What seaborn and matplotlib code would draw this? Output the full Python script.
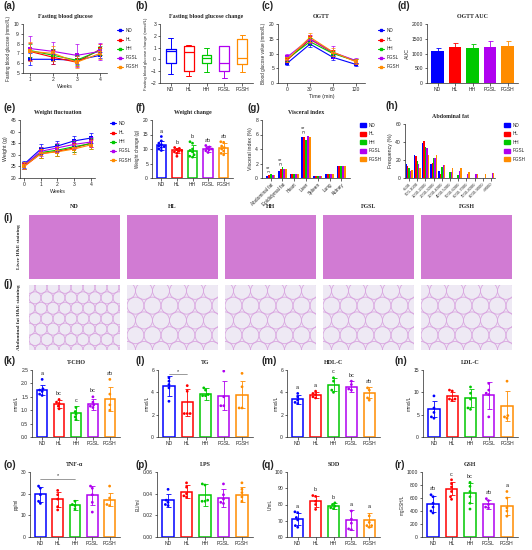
import numpy as np
import pandas as pd
import matplotlib
matplotlib.use("Agg")
import matplotlib.pyplot as plt
import seaborn as sns
from matplotlib.lines import Line2D
from matplotlib.patches import Patch, Circle

# ---------------- data ----------------
groups = ["ND", "HL", "HH", "FGSL", "FGSH"]
colors = ["#0000FF", "#FF0000", "#00C800", "#B000F0", "#FF8C00"]

# (a) fasting blood glucose
fbg_weeks = [1, 2, 3, 4]
fbg_mean = {"ND": [6.4, 6.4, 6.3, 6.8], "HL": [7.2, 6.6, 6.1, 7.4], "HH": [7.3, 6.8, 6.3, 7.3],
            "FGSL": [7.5, 7.2, 6.8, 7.2], "FGSH": [7.2, 7.0, 6.1, 7.0]}
fbg_sd = {"ND": [0.6, 0.5, 0.4, 0.3], "HL": [0.9, 0.7, 0.4, 0.6], "HH": [0.7, 0.6, 0.5, 0.5],
          "FGSL": [1.3, 1.0, 1.2, 0.9], "FGSH": [1.0, 0.8, 0.6, 0.6]}

# (b) fasting blood glucose change box stats: whislo, q1, med, q3, whishi
fbgc_box = {"ND": [-1.2, -0.3, 0.7, 0.9, 1.8], "HL": [-1.4, -1.0, 0.6, 1.1, 1.2],
            "HH": [-1.1, -0.3, 0.1, 0.4, 1.0], "FGSL": [-1.6, -1.0, -0.3, 1.1, 1.1],
            "FGSH": [-1.1, -0.4, 0.1, 1.7, 2.1]}

# (c) OGTT
ogtt_time = ["0", "30", "60", "120"]
ogtt_mean = {"ND": [6.7, 13.2, 8.7, 6.3], "HL": [7.8, 14.8, 10.3, 7.4], "HH": [8.2, 14.0, 10.0, 7.5],
             "FGSL": [8.8, 15.0, 10.4, 7.6], "FGSH": [8.0, 15.5, 10.5, 7.2]}
ogtt_sd = {"ND": [0.6, 1.0, 0.8, 0.6], "HL": [0.8, 1.2, 1.0, 0.9], "HH": [0.7, 1.1, 1.0, 0.8],
           "FGSL": [1.0, 1.3, 2.0, 0.9], "FGSH": [0.8, 1.5, 1.2, 0.9]}

# (d) OGTT AUC
auc_mean = [1080, 1230, 1200, 1230, 1240]
auc_sd = [100, 120, 130, 190, 190]

# (e) weight fluctuation
wt_weeks = [0, 1, 2, 3, 4]
wt_mean = {"ND": [26.0, 32.5, 33.8, 36.0, 37.2], "HL": [25.0, 30.5, 31.5, 33.0, 35.0],
           "HH": [25.5, 31.0, 32.0, 33.5, 34.8], "FGSL": [25.5, 31.5, 33.0, 34.5, 35.5],
           "FGSH": [25.2, 30.5, 31.3, 32.5, 34.3]}
wt_sd = {"ND": [1.5, 2.3, 2.0, 2.0, 2.3], "HL": [1.3, 2.0, 2.0, 2.0, 1.8], "HH": [1.5, 2.5, 2.5, 2.5, 2.5],
         "FGSL": [1.5, 2.0, 2.0, 2.0, 2.0], "FGSH": [1.5, 2.0, 2.0, 2.0, 2.0]}

# (f) weight change
wc_mean = [11.3, 9.5, 9.3, 10.0, 10.3]
wc_sd = [1.5, 1.0, 2.2, 1.0, 1.8]
wc_pts = {"ND": [14.3, 12.8, 12.0, 11.5, 11.0, 10.8, 10.5, 10.0, 9.5],
          "HL": [10.5, 10.2, 9.8, 9.5, 9.2, 9.0, 8.5, 7.5],
          "HH": [12.5, 12.0, 10.0, 9.5, 9.0, 8.0, 7.5, 7.2],
          "FGSL": [11.2, 10.7, 10.3, 10.0, 9.7, 9.4, 8.8],
          "FGSH": [12.5, 12.3, 11.0, 10.5, 10.0, 9.3, 8.5, 8.0]}
wc_letters = ["a", "b", "b", "ab", "ab"]

# (g) visceral index
organs = ["Abdominal fat", "Epididymal fat", "Heart", "Liver", "Spleen", "Lung", "Kidney"]
vis_vals = {"ND": [0.3, 0.9, 0.5, 5.7, 0.3, 0.6, 1.7], "HL": [0.4, 1.3, 0.5, 5.7, 0.3, 0.6, 1.7],
            "HH": [0.5, 1.5, 0.5, 5.3, 0.3, 0.6, 1.6], "FGSL": [0.35, 1.3, 0.5, 5.8, 0.3, 0.6, 1.7],
            "FGSH": [0.35, 1.3, 0.5, 5.7, 0.3, 0.6, 1.6]}

# (h) abdominal fat cell size distribution
fat_bins = ["<500", "500-1000", "1000-2000", "2000-3000", "3000-4000", "4000-5000",
            "5000-6000", "6000-7000", "7000-8000", "8000-9000", ">9000"]
fat_vals = {"ND": [16, 26, 39, 16, 8, 0, 0, 0, 0, 0, 0],
            "HL": [13, 24, 41, 17, 5, 0, 0, 0, 0, 0, 0],
            "HH": [11, 19, 35, 22, 12, 7, 3, 0, 0, 0, 0],
            "FGSL": [8, 16, 33, 22, 15, 7, 8, 5, 5, 0, 6],
            "FGSH": [9, 11, 26, 26, 15, 11, 11, 7, 5, 5, 6]}

# (k)-(r) serum indices
tcho_mean = [1.75, 1.22, 0.90, 1.22, 1.42]; tcho_sd = [0.20, 0.15, 0.25, 0.20, 0.45]
tcho_pts = {"ND": [2.15, 1.8, 1.75, 1.7, 1.6, 1.55], "HL": [1.4, 1.3, 1.25, 1.15, 1.05],
            "HH": [1.1, 0.95, 0.85, 0.75, 0.65], "FGSL": [1.5, 1.3, 1.2, 1.15, 1.1],
            "FGSH": [2.15, 1.6, 1.2, 1.0]}
tcho_letters = ["a", "bc", "c", "bc", "ab"]

tg_mean = [4.6, 3.1, 3.85, 3.7, 3.8]; tg_sd = [0.9, 1.2, 0.5, 1.3, 1.2]
tg_pts = {"ND": [5.3, 5.0, 4.7, 4.4, 3.2], "HL": [4.6, 4.1, 2.1, 2.1, 2.1],
          "HH": [4.4, 4.2, 3.8, 3.7, 3.7], "FGSL": [5.9, 3.6, 2.8, 2.8], "FGSH": [5.7, 4.5, 2.6, 2.6]}

hdl_mean = [3.4, 3.75, 4.7, 4.5, 3.95]; hdl_sd = [0.4, 0.3, 0.6, 0.5, 0.5]
hdl_pts = {"ND": [3.9, 3.6, 3.3, 3.1, 3.0], "HL": [4.1, 3.9, 3.8, 3.6, 3.5],
           "HH": [5.3, 5.0, 4.2, 4.0], "FGSL": [5.0, 4.7, 4.3, 4.2], "FGSH": [4.4, 4.2, 3.5, 3.3]}
hdl_letters = ["a", "a", "c", "bc", "ab"]

ldl_mean = [6.3, 9.1, 8.7, 9.3, 6.9]; ldl_sd = [1.8, 1.0, 2.0, 3.0, 3.3]
ldl_pts = {"ND": [9.2, 6.5, 5.5, 4.5, 4.2], "HL": [10.5, 10.3, 8.5, 8.5, 8.3],
           "HH": [11.2, 9.8, 8.5, 6.5, 6.2], "FGSL": [12.0, 10.5, 9.8, 9.5, 4.5],
           "FGSH": [12.5, 4.8, 4.5, 4.2]}

tnf_mean = [19.8, 17.5, 14.8, 19.2, 17.3]; tnf_sd = [3.5, 3.5, 2.2, 4.5, 3.2]
tnf_pts = {"ND": [23.5, 22.5, 19.5, 16.5, 15.5], "HL": [21.5, 19.5, 17.5, 14.0, 12.5],
           "HH": [16.5, 15.0, 14.5, 13.0], "FGSL": [23.5, 22.5, 19.5, 16.0, 11.5],
           "FGSH": [23.5, 18.0, 15.0, 14.5]}

lps_mean = [0.034, 0.042, 0.039, 0.036, 0.039]; lps_sd = [0.006, 0.006, 0.010, 0.008, 0.007]
lps_pts = {"ND": [0.044, 0.034, 0.032, 0.030, 0.029], "HL": [0.050, 0.046, 0.040, 0.038, 0.037],
           "HH": [0.049, 0.048, 0.034, 0.033, 0.033], "FGSL": [0.049, 0.039, 0.035, 0.032, 0.031],
           "FGSH": [0.050, 0.044, 0.041, 0.037, 0.033]}

sod_mean = [71, 82, 79, 70.5, 70.5]; sod_sd = [3.5, 3.5, 2.0, 6.0, 4.5]
sod_pts = {"ND": [75.5, 75, 72, 70.5, 67, 66], "HL": [85.5, 85, 82, 80, 77],
           "HH": [81, 80, 79, 78, 77.5], "FGSL": [76, 71, 68.5, 65, 64.5], "FGSH": [73, 69, 67, 67, 66]}
sod_letters = ["a", "b", "b", "a", "a"]

gsh_mean = [510, 740, 675, 505, 475]; gsh_sd = [120, 100, 150, 70, 140]
gsh_pts = {"ND": [650, 620, 520, 460, 400, 370], "HL": [880, 820, 770, 700, 620, 580],
           "HH": [840, 780, 700, 620, 520, 430], "FGSL": [590, 560, 500, 460, 450],
           "FGSH": [700, 600, 450, 400, 320]}
gsh_letters = ["ab", "c", "bc", "ab", "a"]

# ---------------- style ----------------
sns.set_style("ticks")
plt.rcParams.update({
    "font.family": ["Liberation Sans", "DejaVu Sans"],
    "font.size": 4,
    "axes.linewidth": 0.5,
    "xtick.major.width": 0.5, "ytick.major.width": 0.5,
    "xtick.major.size": 1.8, "ytick.major.size": 1.8,
    "xtick.major.pad": 1.2, "ytick.major.pad": 1.0,
    "xtick.labelsize": 3.6, "ytick.labelsize": 3.6,
    "axes.labelsize": 3.8, "axes.labelpad": 1.5,
})
pal = dict(zip(groups, colors))
W, H = 532, 550
fig = plt.figure(figsize=(W / 100, H / 100), dpi=100)
SERIF = ["Liberation Serif", "DejaVu Serif"]


def add(x0, y0, x1, y1):
    ax = fig.add_axes([x0 / W, 1 - y1 / H, (x1 - x0) / W, (y1 - y0) / H])
    sns.despine(ax=ax)
    return ax


def title(ax, t):
    ax.set_title(t, fontsize=4.3, fontweight="bold", family=SERIF, pad=4)


def plabel(x, y, t):
    fig.text(x / W, 1 - y / H, "(" + t + ")", fontsize=7, fontweight="bold",
             family=["Liberation Sans"], va="center", ha="left")


def line_legend(x, y):
    handles = [Line2D([0], [0], color=c, marker="s", ms=2, lw=0.8) for c in colors]
    fig.legend(handles, groups, loc="upper left", bbox_to_anchor=(x / W, 1 - y / H),
               frameon=False, fontsize=3.3, handlelength=1.3, handletextpad=0.5,
               labelspacing=0.9, borderpad=0, borderaxespad=0)


def patch_legend(x, y):
    handles = [Patch(color=c) for c in colors]
    fig.legend(handles, groups, loc="upper left", bbox_to_anchor=(x / W, 1 - y / H),
               frameon=False, fontsize=3.3, handlelength=1.4, handleheight=1.0,
               handletextpad=0.5, labelspacing=0.75, borderpad=0, borderaxespad=0)


def line_panel(ax, xs, mean, sd, xticklabels=None):
    rows = []
    for g in groups:
        for i, v in enumerate(mean[g]):
            rows.append((g, xs[i], v))
    df = pd.DataFrame(rows, columns=["g", "x", "v"])
    sns.lineplot(data=df, x="x", y="v", hue="g", palette=pal, hue_order=groups, marker="s",
                 markersize=2.5, markeredgewidth=0, linewidth=0.8, ax=ax, legend=False)
    for g in groups:
        ax.errorbar(xs, mean[g], yerr=sd[g], fmt="none", ecolor=pal[g], elinewidth=0.5,
                    capsize=1.2, capthick=0.5)
    ax.set_xticks(xs)
    if xticklabels is not None:
        ax.set_xticklabels(xticklabels)


def bar_dots(ax, means, sds, pts, ylim, yticks, ylabel, letters=None, fmt=None):
    sns.barplot(x=groups, y=means, hue=groups, palette=pal, fill=False, linewidth=1.1,
                width=0.62, errorbar=None, ax=ax, legend=False)
    for i, g in enumerate(groups):
        ax.errorbar(i, means[i], yerr=sds[i], fmt="none", ecolor=pal[g], elinewidth=0.6,
                    capsize=1.8, capthick=0.6)
    rows = [(g, v) for g in groups for v in pts[g]]
    df = pd.DataFrame(rows, columns=["g", "v"])
    sns.swarmplot(data=df, x="g", y="v", hue="g", palette=pal, order=groups, size=2.0,
                  ax=ax, legend=False)
    ax.set_ylim(*ylim)
    ax.set_yticks(yticks)
    if fmt:
        ax.set_yticklabels([fmt.format(t) for t in yticks])
    ax.set_xlabel("")
    ax.set_ylabel(ylabel, fontsize=3.3)
    ax.set_xlim(-0.6, 4.6)
    if letters:
        span = ylim[1] - ylim[0]
        for i in range(5):
            top = max(means[i] + sds[i], max(pts[groups[i]]))
            ax.text(i, top + 0.05 * span, letters[i], ha="center", va="bottom", fontsize=4)


def bracket(ax, x0, x1, y, h, txt):
    ax.plot([x0, x0, x1, x1], [y - h, y, y, y - h], color="0.3", lw=0.4)
    ax.text((x0 + x1) / 2, y, txt, ha="center", va="bottom", fontsize=4)


# ---------------- (a) ----------------
ax = add(23, 24, 107, 73)
line_panel(ax, fbg_weeks, fbg_mean, fbg_sd)
ax.set_ylim(5, 10); ax.set_yticks([5, 6, 7, 8, 9, 10]); ax.set_xlim(0.7, 4.3)
ax.set_xlabel("Weeks"); ax.set_ylabel("Fasting blood glucose (mmol/L)", fontsize=3.3)
title(ax, "Fasting blood glucose")
line_legend(117, 28)

# ---------------- (b) ----------------
ax = add(160, 24, 253, 83)
stats = []
for g in groups:
    lo, q1, md, q3, hi = fbgc_box[g]
    stats.append(dict(whislo=lo, q1=q1, med=md, q3=q3, whishi=hi, fliers=[], label=g))
bp = ax.bxp(stats, positions=range(5), widths=0.55, patch_artist=False, showfliers=False)
for i, c in enumerate(colors):
    bp["boxes"][i].set(color=c, lw=0.9)
    bp["medians"][i].set(color=c, lw=0.9)
    for w in bp["whiskers"][2 * i:2 * i + 2]:
        w.set(color=c, lw=0.7)
    for cp in bp["caps"][2 * i:2 * i + 2]:
        cp.set(color=c, lw=0.7)
ax.set_ylim(-2, 3); ax.set_yticks([-2, -1, 0, 1, 2, 3]); ax.set_xlim(-0.6, 4.6)
ax.set_xticks(range(5)); ax.set_xticklabels(groups)
ax.set_ylabel("Fasting blood glucose change (mmol/L)", fontsize=3.1)
title(ax, "Fasting blood glucose change")

# ---------------- (c) ----------------
ax = add(278, 24, 365, 83)
line_panel(ax, [0, 1, 2, 3], ogtt_mean, ogtt_sd, xticklabels=ogtt_time)
ax.set_ylim(0, 20); ax.set_yticks([0, 5, 10, 15, 20]); ax.set_xlim(-0.4, 3.4)
ax.set_xlabel("Time (min)"); ax.set_ylabel("Blood glucose value (mmol/L)", fontsize=3.3)
title(ax, "OGTT")
line_legend(378, 28)

# ---------------- (d) ----------------
ax = add(427, 24, 518, 83)
sns.barplot(x=groups, y=auc_mean, hue=groups, palette=pal, width=0.72, errorbar=None,
            ax=ax, legend=False, saturation=1, linewidth=0)
for i, g in enumerate(groups):
    ax.errorbar(i, auc_mean[i], yerr=[[0], [auc_sd[i]]], fmt="none", ecolor=pal[g],
                elinewidth=0.6, capsize=1.8, capthick=0.6)
ax.set_ylim(0, 2000); ax.set_yticks([0, 500, 1000, 1500, 2000]); ax.set_xlim(-0.6, 4.6)
ax.set_ylabel("AUC")
title(ax, "OGTT AUC")

# ---------------- (e) ----------------
ax = add(20, 120, 95, 178)
line_panel(ax, wt_weeks, wt_mean, wt_sd)
ax.set_ylim(20, 45); ax.set_yticks([20, 25, 30, 35, 40, 45]); ax.set_xlim(-0.25, 4.25)
ax.set_xlabel("Weeks"); ax.set_ylabel("Weight (g)")
title(ax, "Weight fluctuation")
line_legend(110, 121)

# ---------------- (f) ----------------
ax = add(152, 120, 233, 178)
bar_dots(ax, wc_mean, wc_sd, wc_pts, (0, 20), [0, 5, 10, 15, 20], "Weight change (g)", wc_letters)
title(ax, "Weight change")

# ---------------- (g) ----------------
ax = add(262, 120, 350, 178)
rows = [(o, g, vis_vals[g][i]) for i, o in enumerate(organs) for g in groups]
dfg = pd.DataFrame(rows, columns=["o", "g", "v"])
sns.barplot(data=dfg, x="o", y="v", hue="g", palette=pal, hue_order=groups, errorbar=None,
            width=0.8, ax=ax, legend=False, saturation=1, linewidth=0)
ax.set_ylim(0, 8); ax.set_yticks([0, 2, 4, 6, 8])
ax.set_xlabel(""); ax.set_ylabel("Visceral index (%)")
ax.tick_params(axis="x", labelrotation=45, labelsize=3.4)
for lab in ax.get_xticklabels():
    lab.set_ha("right"); lab.set_rotation_mode("anchor")
bracket(ax, -0.32, -0.16, 1.0, 0.2, "**")
bracket(ax, 0.68, 0.84, 2.1, 0.25, "**")
bracket(ax, 2.68, 2.84, 6.5, 0.25, "**")
title(ax, "Visceral index")
patch_legend(360, 123)

# ---------------- (h) ----------------
ax = add(405, 124, 495, 178)
rows = [(b, g, fat_vals[g][i]) for i, b in enumerate(fat_bins) for g in groups]
dfh = pd.DataFrame(rows, columns=["b", "g", "v"])
sns.barplot(data=dfh, x="b", y="v", hue="g", palette=pal, hue_order=groups, errorbar=None,
            width=0.85, ax=ax, legend=False, saturation=1, linewidth=0)
ax.set_ylim(0, 60); ax.set_yticks([0, 20, 40, 60])
ax.set_xlabel(""); ax.set_ylabel("Frequency (%)")
ax.tick_params(axis="x", labelrotation=45, labelsize=3.0)
for lab in ax.get_xticklabels():
    lab.set_ha("right"); lab.set_rotation_mode("anchor")
title(ax, "Abdominal fat")
patch_legend(504, 123)

# ---------------- (i), (j) histology placeholders ----------------
img_x = [29, 127, 225, 323, 421]
for k, g in enumerate(groups):
    x0 = img_x[k]
    a1 = fig.add_axes([x0 / W, 1 - 279 / H, 91 / W, 64 / H])
    a1.set_facecolor("#D17BD3")
    a1.set_xlim(0, 91); a1.set_ylim(0, 64)
    a1.set_xticks([]); a1.set_yticks([])
    for s in a1.spines.values():
        s.set_visible(False)
    a2 = fig.add_axes([x0 / W, 1 - 350 / H, 91 / W, 65 / H])
    a2.set_facecolor("#EEE9F4")
    a2.set_xlim(0, 91); a2.set_ylim(0, 65)
    a2.set_xticks([]); a2.set_yticks([])
    for s in a2.spines.values():
        s.set_visible(False)
    r = 6 if k == 0 else 8.5
    step = 2 * r
    yy = 0.0
    row = 0
    while yy < 65 + r:
        xx = (r if row % 2 else 0.0)
        while xx < 91 + r:
            a2.add_patch(Circle((xx, yy), r, fill=False, ec="#D9A6E0", lw=0.6))
            xx += step
        yy += step * 0.87
        row += 1
    fig.text((x0 + 45.5) / W, 1 - 206 / H, g, ha="center", va="center", fontsize=4.3,
             fontweight="bold", family=SERIF)
fig.text(19 / W, 1 - 247 / H, "Liver H&E staining", rotation=90, ha="center", va="center",
         fontsize=3.8, fontweight="bold", family=SERIF)
fig.text(19 / W, 1 - 317 / H, "Abdominal fat H&E staining", rotation=90, ha="center",
         va="center", fontsize=3.8, fontweight="bold", family=SERIF)

# ---------------- (k)-(n) ----------------
ax = add(32, 370, 120, 437)
bar_dots(ax, tcho_mean, tcho_sd, tcho_pts, (0, 2.5), [0, 0.5, 1.0, 1.5, 2.0, 2.5], "mmol/L",
         tcho_letters, fmt="{:.1f}")
title(ax, "T-CHO")

ax = add(158, 370, 253, 437)
bar_dots(ax, tg_mean, tg_sd, tg_pts, (0, 6), [0, 2, 4, 6], "mmol/L")
bracket(ax, 0, 1, 5.6, 0.0, "*")
title(ax, "TG")

ax = add(287, 370, 380, 437)
bar_dots(ax, hdl_mean, hdl_sd, hdl_pts, (0, 6), [0, 2, 4, 6], "mmol/L", hdl_letters)
title(ax, "HDL-C")

ax = add(423, 370, 518, 437)
bar_dots(ax, ldl_mean, ldl_sd, ldl_pts, (0, 15), [0, 5, 10, 15], "mmol/L")
title(ax, "LDL-C")

# ---------------- (o)-(r) ----------------
ax = add(30, 472, 120, 537)
bar_dots(ax, tnf_mean, tnf_sd, tnf_pts, (0, 30), [0, 10, 20, 30], "pg/ml")
bracket(ax, 0, 2, 27, 0.0, "*")
title(ax, "TNF-α")

ax = add(157, 472, 253, 537)
bar_dots(ax, lps_mean, lps_sd, lps_pts, (0, 0.06), [0, 0.02, 0.04, 0.06], "EU/ml",
         fmt="{:.2f}")
title(ax, "LPS")

ax = add(287, 472, 380, 537)
bar_dots(ax, sod_mean, sod_sd, sod_pts, (60, 100), [60, 70, 80, 90, 100], "U/mL", sod_letters)
title(ax, "SOD")

ax = add(422, 472, 518, 537)
bar_dots(ax, gsh_mean, gsh_sd, gsh_pts, (0, 1000), [0, 200, 400, 600, 800, 1000], "mgGSH/L",
         gsh_letters)
title(ax, "GSH")

# ---------------- panel labels ----------------
for (x, y, t) in [(3, 6, "a"), (136, 6, "b"), (262, 6, "c"), (398, 6, "d"),
                  (3, 108, "e"), (136, 108, "f"), (248, 108, "g"), (386, 106, "h"),
                  (3, 218, "i"), (3, 284, "j"),
                  (3, 361, "k"), (136, 361, "l"), (262, 361, "m"), (395, 361, "n"),
                  (3, 465, "o"), (136, 465, "p"), (262, 465, "q"), (395, 465, "r")]:
    plabel(x, y, t)

fig.savefig("out.png", dpi=100)
